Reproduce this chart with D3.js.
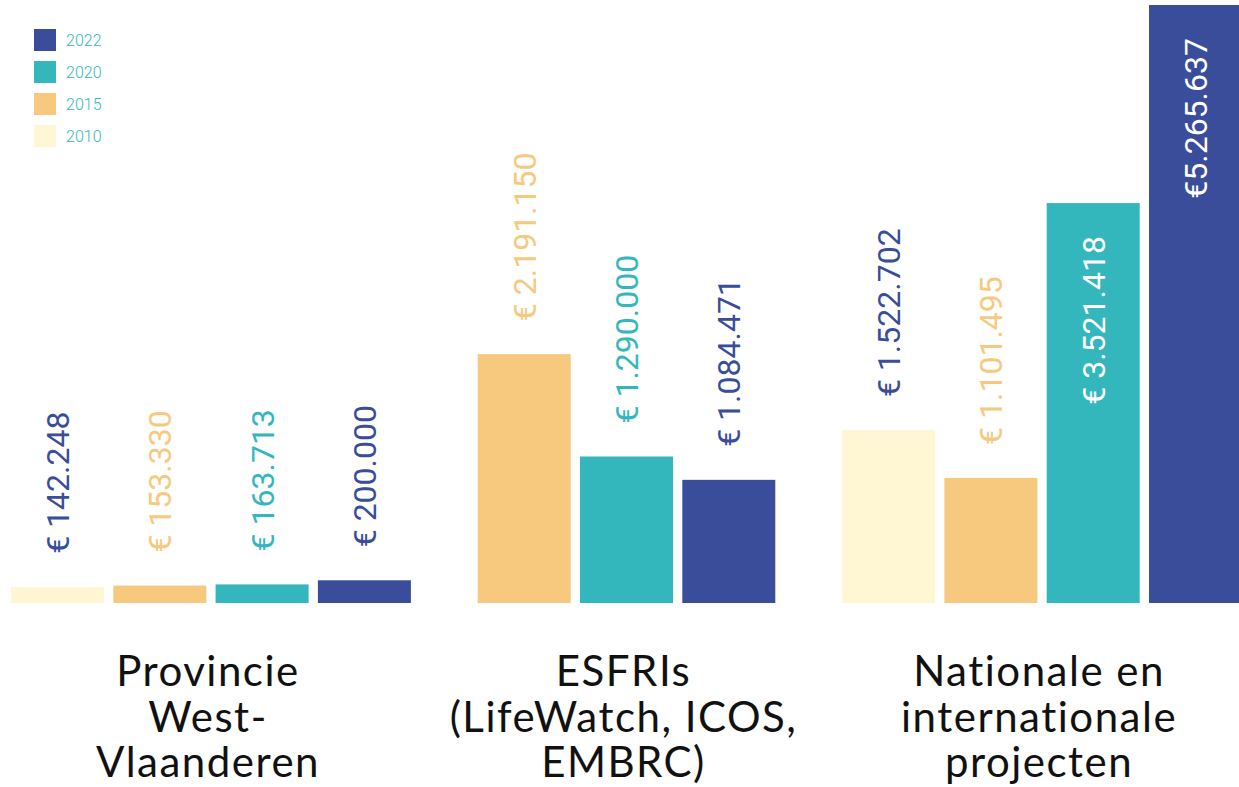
<!DOCTYPE html>
<html>
<head>
<meta charset="utf-8">
<script src="https://cdn.jsdelivr.net/npm/d3@7"></script>
<style>
  body { margin: 0; background: #fff; }
  svg { display: block; }
</style>
</head>
<body>
<svg width="1239" height="787"></svg>
<script>
/* data */
let years = ['2022', '2020', '2015', '2010'];
let groups = [
  ['Provincie', 'West-', 'Vlaanderen'],
  ['ESFRIs', '(LifeWatch, ICOS,', 'EMBRC)'],
  ['Nationale en', 'internationale', 'projecten']
];
let groupYears = [
  ['2010', '2015', '2020', '2022'],
  ['2015', '2020', '2022'],
  ['2010', '2015', '2020', '2022']
];
let groupValues = [
  [142248, 153330, 163713, 200000],
  [2191150, 1290000, 1084471],
  [1522702, 1101495, 3521418, 5265637]
];
let labelText = [
  ['€ 142.248', '€ 153.330', '€ 163.713', '€ 200.000'],
  ['€ 2.191.150', '€ 1.290.000', '€ 1.084.471'],
  ['€ 1.522.702', '€ 1.101.495', '€ 3.521.418', '€5.265.637']
];

let svg = d3.select('svg'),
  width = 1239, height = 787;

let color = d3.scaleOrdinal().domain(years)
  .range(['#394d9b', '#34b7bc', '#f6c97e', '#fff6d3']);
// label colour: the pale 2010 bars get a navy label
let labelColor = d3.scaleOrdinal().domain(years)
  .range(['#394d9b', '#34b7bc', '#f6c97e', '#394d9b']);

let baseY = 603;
let y = d3.scaleLinear().domain([0, 5265637]).range([baseY, 5]);

/* x layout: each group gets its own band scale */
let step = 102.3, pad = 9.3, gap = 57.5, left = 11;
let groupX = [];
let acc = left;
groupYears.forEach((g) => {
  groupX.push(d3.scaleBand().domain(g)
    .range([acc, acc + g.length * step - pad])
    .paddingInner(pad / step).paddingOuter(0));
  acc += g.length * step + gap;
});

let bars = [];
groupYears.forEach((g, gi) => {
  g.forEach((yr, i) => {
    bars.push({ group: gi, year: yr, value: groupValues[gi][i], label: labelText[gi][i] });
  });
});

let chart = svg.append('g').attr('class', 'bars');

chart.selectAll('rect')
  .data(bars)
  .enter().append('rect')
  .attr('x', (d) => groupX[d.group](d.year))
  .attr('width', (d) => groupX[d.group].bandwidth())
  .attr('y', (d) => y(d.value))
  .attr('height', (d) => baseY - y(d.value))
  .attr('fill', (d) => color(d.year));

// value labels, rotated; big bars carry them inside in white
let inside = (d) => d.value > 3000000;
chart.selectAll('text.value')
  .data(bars)
  .enter().append('text')
  .attr('class', 'value')
  .attr('transform', (d) => {
    let cx = groupX[d.group](d.year) + groupX[d.group].bandwidth() / 2;
    let ty = inside(d) ? y(d.value) + 33 : Math.min(y(d.value) - 33, 556);
    return 'translate(' + cx + ',' + ty + ') rotate(-90)';
  })
  .attr('dy', '0.36em')
  .attr('text-anchor', (d) => inside(d) ? 'end' : 'start')
  .attr('font-family', 'Roboto, sans-serif')
  .attr('font-weight', 400)
  .attr('font-size', 32)
  .attr('fill', (d) => inside(d) ? '#ffffff' : labelColor(d.year))
  .text((d) => d.label);

// category labels
let cats = svg.append('g').attr('class', 'cats');
groups.forEach((lines, gi) => {
  let r = groupX[gi].range();
  let cx = (r[0] + r[1]) / 2 - 3;
  let t = cats.append('text')
    .attr('x', cx)
    .attr('y', 686)
    .attr('text-anchor', 'middle')
    .attr('font-family', 'Lato, sans-serif')
    .attr('font-size', 42)
    .attr('letter-spacing', 1.5)
    .attr('fill', '#111');
  lines.forEach((l, li) => {
    t.append('tspan')
      .attr('x', cx)
      .attr('dy', li === 0 ? 0 : 45.5)
      .text(l);
  });
});

// legend
let legend = svg.append('g').attr('class', 'legend').attr('transform', 'translate(34,29)');
let item = legend.selectAll('g')
  .data(years)
  .enter().append('g')
  .attr('transform', (d, i) => 'translate(0,' + i * 32 + ')');
item.append('rect')
  .attr('width', 22).attr('height', 22)
  .attr('fill', (d) => color(d));
item.append('text')
  .attr('x', 32).attr('y', 11).attr('dy', '0.36em')
  .attr('font-family', 'Roboto, sans-serif')
  .attr('font-weight', 300)
  .attr('font-size', 16)
  .attr('fill', '#34b7bc')
  .text((d) => d);
</script>
</body>
</html>
